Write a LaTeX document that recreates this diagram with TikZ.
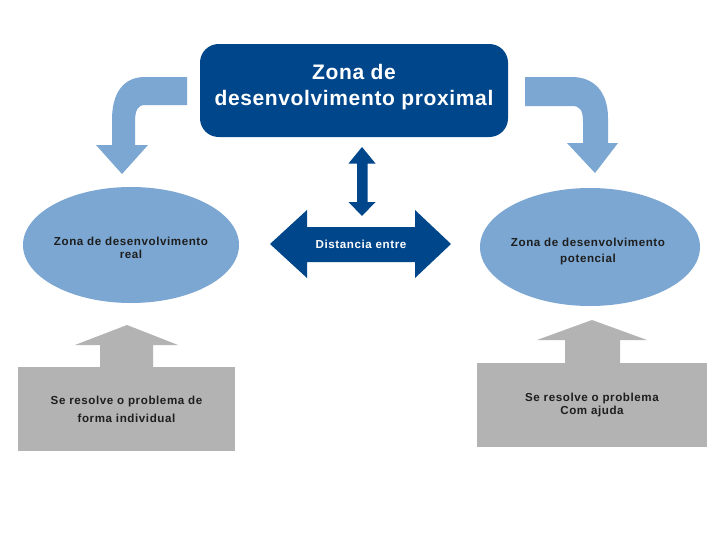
\documentclass[tikz,border=0pt]{standalone}
\usepackage{fontspec}
\setmainfont{Liberation Sans}
\newfontfamily\headfont[LetterSpace=3]{Liberation Sans}
\newfontfamily\smallfont[LetterSpace=5]{Liberation Sans}
\usetikzlibrary{shapes.geometric}
\definecolor{zdpblue}{HTML}{00468B}
\definecolor{zdlight}{HTML}{7BA7D2}
\definecolor{zdgray}{HTML}{B3B3B3}
\definecolor{zdtext}{HTML}{1E1E1E}

\begin{document}
\begin{tikzpicture}[x=0.75pt,y=-0.75pt,
    zone/.style={ellipse,fill=zdlight,inner sep=0pt},
    smalltext/.style={align=center,font=\smallfont\bfseries\fontsize{8.7pt}{10pt}\selectfont},
    helpbox/.style={rectangle,fill=zdgray,minimum height=63pt,text=zdtext,smalltext},
    curved/.style={fill=zdlight},
    dark/.style={fill=zdpblue},
    up/.style={fill=zdgray}]
    \path[fill=white] (0,0) rectangle (728,546);

    % zona de desenvolvimento proximal
    \node [rectangle,rounded corners=14pt,fill=zdpblue,minimum width=231pt,minimum height=69.75pt] (zdp) at (354,90.5) {};
    \node [text=white,align=center,font=\headfont\bfseries\fontsize{15.75pt}{19.5pt}\selectfont] (zdptext) at ([yshift=2.6pt]zdp.center) {Zona de\\desenvolvimento proximal};

    % curved arrows
    \fill[curved] (187,77) -- (145,77) .. controls (124,77) and (112,92) .. (112,120) -- (112,145) -- (96,145) -- (122,174) -- (148,145) -- (135,145) -- (135,122) .. controls (135,110) and (138,105) .. (145,105) -- (187,105) -- cycle;
    \fill[curved] (525,77) -- (572,77) .. controls (594,77) and (608,92) .. (608,118) -- (608,143) -- (618,143) -- (595,173) -- (567,143) -- (583,143) -- (583,122) .. controls (583,110) and (580,106) .. (572,106) -- (525,106) -- cycle;

    % zones
    \node [zone,minimum width=162pt,minimum height=87pt] (real) at (131,245) {};
    \node [smalltext,text=zdtext] (realtext) at (131,248) {Zona de desenvolvimento\\real};
    \node [zone,minimum width=165pt,minimum height=88.5pt] (pot) at (590,247) {};
    \node [smalltext,text=zdtext] (pottext) at (588,251) {Zona de desenvolvimento\\[2pt]potencial};

    % double arrows
    \fill[dark] (362,147) -- (348.5,163.5) -- (357,163.5) -- (357,202) -- (348.5,202) -- (362,216) -- (375.5,202) -- (367.5,202) -- (367.5,163.5) -- (375.5,163.5) -- cycle;
    \fill[dark] (270,244) -- (307,210) -- (307,227) -- (415,227) -- (415,210) -- (451,244) -- (415,278) -- (415,262) -- (307,262) -- (307,278) -- cycle;
    \node [smalltext,text=white] (dist) at (361,244) {Distancia entre};

    % help boxes
    \fill[up] (127,325) -- (178,345) -- (153,345) -- (153,368) -- (100,368) -- (100,345) -- (75,345) -- cycle;
    \node [helpbox,minimum width=162.75pt] (indiv) at (126.5,409) {Se resolve o problema de\\[3.5pt]forma individual};
    \fill[up] (592,320) -- (647,340) -- (620,340) -- (620,364) -- (565,364) -- (565,340) -- (537,340) -- cycle;
    \node [helpbox,minimum width=172.5pt] (ajuda) at (592,405) {Se resolve o problema\\Com ajuda};

\end{tikzpicture}
\end{document}
